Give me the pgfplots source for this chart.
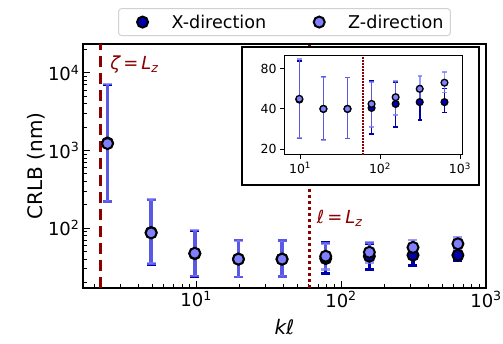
\documentclass[border=0pt]{standalone}
\usepackage{pgfplots}
\pgfplotsset{compat=1.18}
\usepackage{fontspec}
\setmainfont{DejaVu Sans}
\definecolor{xcol}{RGB}{0,0,170}
\definecolor{zcol}{RGB}{128,128,255}
\definecolor{zbar}{RGB}{120,120,250}
\definecolor{dred}{RGB}{139,0,0}
\begin{document}
\begin{tikzpicture}
\begin{axis}[
  name=main, at={(0pt,0pt)}, anchor=south west,
  scale only axis, width=403pt, height=244pt,
  xmode=log, ymode=log,
  xmin=1.66, xmax=1000, ymin=17, ymax=23500,
  axis line style={line width=1.2pt},
  tick align=inside, xtick pos=bottom, ytick pos=left,
  major tick length=7pt, minor tick length=4pt,
  every tick/.style={black, line width=1pt},
  xtick={10,100,1000},
  xticklabels={10\textsuperscript{1},10\textsuperscript{2},10\textsuperscript{3}},
  minor xtick={2,3,4,5,6,7,8,9,20,30,40,50,60,70,80,90,200,300,400,500,600,700,800,900},
  ytick={100,1000,10000},
  yticklabels={10\textsuperscript{2},10\textsuperscript{3},10\textsuperscript{4}},
  minor ytick={20,30,40,50,60,70,80,90,200,300,400,500,600,700,800,900,2000,3000,4000,5000,6000,7000,8000,9000,20000},
  ticklabel style={font=\fontsize{18}{20}\selectfont},
  xlabel={\itshape kℓ}, ylabel={CRLB (nm)},
  label style={font=\fontsize{20}{22}\selectfont},
  xlabel style={yshift=-5pt},
  ylabel style={yshift=-4pt},
  legend columns=2,
  legend image code/.code={\path[draw=none, fill=none] (0pt,-5pt) rectangle (46pt,5pt); \draw[#1] plot coordinates {(19pt,0pt)};},
  legend style={at={(0.5,1)}, anchor=south, yshift=8pt,
    draw=black!18, line width=1pt, rounded corners=3pt,
    font=\fontsize{17.6}{20}\selectfont, inner xsep=5pt, inner ysep=4pt,
    /tikz/every even column/.append style={column sep=32pt}},
  legend cell align=left,
]
\addplot[dred, line width=3pt, dash pattern=on 11pt off 6pt, forget plot] coordinates {(2.2,17) (2.2,23500)};
\addplot[dred, line width=3pt, dash pattern=on 3pt off 3pt, forget plot] coordinates {(61,17) (61,23500)};
\addplot[only marks, mark=*, mark size=5.5pt, mark options={fill=xcol, draw=black, line width=2pt},
  error bars/.cd, y dir=both, y explicit,
  error bar style={line width=3.5pt, color=xcol},
  error mark options={rotate=90, mark size=4.5pt, line width=2.5pt, color=xcol}]
  table[x=x, y=y, y error plus=ep, y error minus=em] {
x y ep em
2.45 1250 5750 1028
4.9 88 142 54
9.8 47 45 23
19.6 40 30 16.5
39.2 40 29 16
78.4 40.7 24.3 14.7
156.8 43.6 20.4 14.3
313.6 45 15 12
640 45 12 7.3
};
\addlegendentry{X-direction}
\addplot[only marks, mark=*, mark size=5.5pt, mark options={fill=zcol, draw=black, line width=2pt},
  error bars/.cd, y dir=both, y explicit,
  error bar style={line width=3.5pt, color=zbar, opacity=0.75},
  error mark options={rotate=90, mark size=4.5pt, line width=2.5pt, color=zbar, opacity=0.75}]
  table[x=x, y=y, y error plus=ep, y error minus=em] {
x y ep em
2.45 1230 5970 1008
4.9 87 148 52
9.8 47.6 47 23.4
19.6 40 29.6 16.6
39.2 40 29 16
78.4 43.6 20.4 14.3
156.8 49 16 13
313.6 56.6 14.4 9.6
640 63 13 10
};
\addlegendentry{Z-direction}
\node[dred, font=\fontsize{18}{20}\selectfont] at (axis cs:3.76,12600) {\itshape ζ\,\upshape=\,\itshape L\textsubscript{z}};
\node[dred, font=\fontsize{18}{20}\selectfont] at (axis cs:98,134) {\itshape ℓ\,\upshape=\,\itshape L\textsubscript{z}};
\end{axis}
\draw[line width=1.5pt, fill=white] (159pt,103pt) rectangle (396pt,241pt);
\begin{axis}[
  at={(201pt,133pt)}, anchor=south west,
  scale only axis, width=178pt, height=99pt,
  xmode=log, ymode=log,
  xmin=6.3, xmax=1060, ymin=18, ymax=100,
  axis line style={line width=1pt},
  tick align=outside, xtick pos=bottom, ytick pos=left,
  major tick length=4pt, minor tick length=0pt,
  every tick/.style={black, line width=0.8pt},
  xtick={10,100,1000},
  xticklabels={10\textsuperscript{1},10\textsuperscript{2},10\textsuperscript{3}},
  ytick={20,40,80}, yticklabels={20,40,80},
  minor xtick={}, minor ytick={},
  ticklabel style={font=\fontsize{12.5}{14}\selectfont},
]
\addplot[dred, line width=1.5pt, dash pattern=on 1.5pt off 1.5pt] coordinates {(61,18) (61,100)};
\addplot[only marks, mark=*, mark size=3.4pt, mark options={fill=xcol, draw=black, line width=1.3pt},
  error bars/.cd, y dir=both, y explicit,
  error bar style={line width=1.6pt, color=xcol},
  error mark options={rotate=90, mark size=2.2pt, line width=1.6pt, color=xcol}]
  table[x=x, y=y, y error plus=ep, y error minus=em] {
x y ep em
9.8 47 45 23
19.6 40 30 16.5
39.2 40 29 16
78.4 40.7 24.3 14.7
156.8 43.6 20.4 14.3
313.6 45 15 12
640 45 12 7.3
};
\addplot[only marks, mark=*, mark size=3.4pt, mark options={fill=zcol, draw=black, line width=1.3pt},
  error bars/.cd, y dir=both, y explicit,
  error bar style={line width=1.6pt, color=zbar, opacity=0.75},
  error mark options={rotate=90, mark size=2.2pt, line width=1.6pt, color=zbar, opacity=0.75}]
  table[x=x, y=y, y error plus=ep, y error minus=em] {
x y ep em
9.8 47.6 47 23.4
19.6 40 29.6 16.6
39.2 40 29 16
78.4 43.6 20.4 14.3
156.8 49 16 13
313.6 56.6 14.4 9.6
640 63 13 10
};
\end{axis}
\pgfresetboundingbox
\path[use as bounding box] (-83pt,-55pt) rectangle (420pt,288pt);
\end{tikzpicture}
\end{document}
